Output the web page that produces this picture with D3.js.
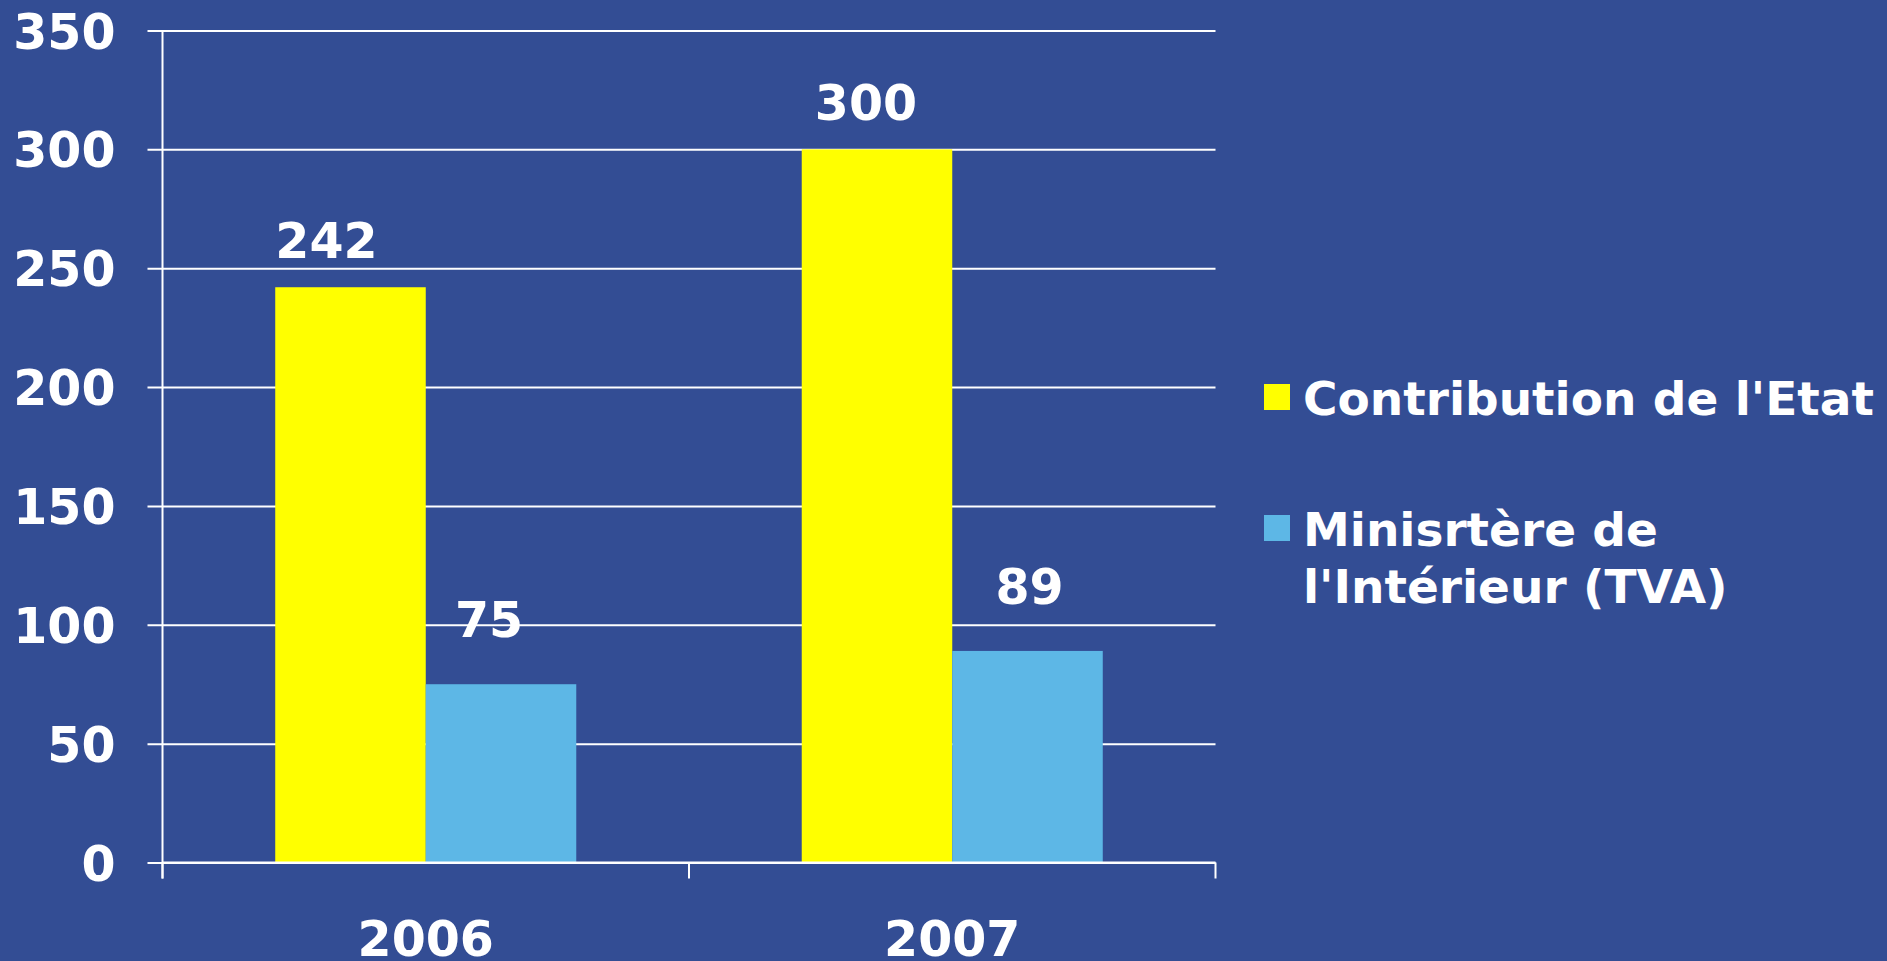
<!DOCTYPE html>
<html>
<head>
<meta charset="utf-8">
<script src="https://cdn.jsdelivr.net/npm/d3@7"></script>
<style>
  html, body { margin: 0; padding: 0; background: #334d94; }
  svg { display: block; }
  text { font-family: "DejaVu Sans", Verdana, sans-serif; font-weight: bold; fill: #ffffff; }
</style>
</head>
<body>
<svg id="chart" width="1887" height="961"></svg>
<script>
// data
var years = ["2006", "2007"];
var seriesNames = ["Contribution de l'Etat", "Minisrtère de l'Intérieur (TVA)"];
var contribution = [242, 300];
var tva = [75, 89];
var yTicks = [0, 50, 100, 150, 200, 250, 300, 350];

var colors = ["#ffff00", "#5db7e6"];
var legendLines = [["Contribution de l'Etat"], ["Minisrtère de", "l'Intérieur (TVA)"]];

var svg = d3.select("#chart");
var margin = {top: 30.5, left: 162.5};
var width = 1053;   // plot width
var height = 832;   // plot height

var g = svg.append("g")
  .attr("transform", "translate(" + margin.left + "," + margin.top + ")");

// scales
var x0 = d3.scaleBand().domain(years).range([0, width]).paddingInner(0).paddingOuter(0);
var x1 = d3.scaleBand().domain(seriesNames).range([0, x0.bandwidth()]).paddingInner(0).paddingOuter(0.749);
var y = d3.scaleLinear().domain([0, 350]).range([height, 0]);
var color = d3.scaleOrdinal().domain(seriesNames).range(colors);

// y axis + gridlines
var yAxis = d3.axisLeft(y).tickValues(yTicks).tickSizeInner(-width).tickSizeOuter(0).tickPadding(47);
var yg = g.append("g").attr("class", "left axis").call(yAxis);
yg.select(".domain").remove();
yg.selectAll(".tick line")
  .attr("x1", -15)
  .attr("stroke", "#ffffff")
  .attr("stroke-width", 2);
yg.selectAll(".tick text")
  .attr("font-size", "49px")
  .attr("dy", "0.36em");
yg.selectAll("text").style("font-family", "'DejaVu Sans', Verdana, sans-serif").style("font-weight", "bold").attr("fill", "#fff");

// rows of data
var rows = years.map(function(yr, i) {
  return {year: yr, i: i, values: [contribution[i], tva[i]]};
});

// bars
var groups = g.selectAll(".year")
  .data(rows)
  .enter().append("g")
  .attr("class", "year")
  .attr("transform", function(d) { return "translate(" + x0(d.year) + ",0)"; });

function cells(d) {
  return d.values.map(function(v, k) { return {name: seriesNames[k], value: v, k: k, i: d.i}; });
}

groups.selectAll("rect")
  .data(cells)
  .enter().append("rect")
  .attr("x", function(d) { return x1(d.name); })
  .attr("y", function(d) { return y(d.value); })
  .attr("width", x1.bandwidth())
  .attr("height", function(d) { return height - y(d.value); })
  .attr("fill", function(d) { return color(d.name); });

// value labels (small nudges like the original layout)
var labelGap = [29, 47];
var labelNudge = [[-24, -12], [-11, 2]];
groups.selectAll(".val")
  .data(cells)
  .enter().append("text")
  .attr("class", "val")
  .attr("x", function(d) { return x1(d.name) + x1.bandwidth() / 2 + labelNudge[d.i][d.k]; })
  .attr("y", function(d) { return y(d.value) - labelGap[d.k]; })
  .attr("text-anchor", "middle")
  .attr("font-size", "49px")
  .text(function(d) { return d.value; });

// x axis
g.append("line")
  .attr("x1", 0).attr("x2", width)
  .attr("y1", height).attr("y2", height)
  .attr("stroke", "#ffffff").attr("stroke-width", 2);
g.append("line")
  .attr("x1", 0).attr("x2", 0)
  .attr("y1", 0).attr("y2", height + 16)
  .attr("stroke", "#ffffff").attr("stroke-width", 2);
var bounds = years.map(function(d) { return x0(d); }).concat([width]);
g.selectAll(".xtick")
  .data(bounds)
  .enter().append("line")
  .attr("class", "xtick")
  .attr("x1", function(d) { return d; }).attr("x2", function(d) { return d; })
  .attr("y1", height).attr("y2", height + 16)
  .attr("stroke", "#ffffff").attr("stroke-width", 2);

var xAxis = d3.axisBottom(x0).tickSize(0).tickPadding(59);
var xg = g.append("g").attr("class", "bottom axis")
  .attr("transform", "translate(0," + height + ")")
  .call(xAxis);
xg.select(".domain").remove();
xg.selectAll("text")
  .attr("font-size", "49px")
  .attr("fill", "#fff")
  .style("font-family", "'DejaVu Sans', Verdana, sans-serif")
  .style("font-weight", "bold");

// legend
var legend = svg.append("g").attr("transform", "translate(1264,0)");
var legendTop = [384, 515];
legendLines.forEach(function(lines, i) {
  legend.append("rect")
    .attr("x", 0).attr("y", legendTop[i])
    .attr("width", 26).attr("height", 26)
    .attr("fill", colors[i]);
  var t = legend.append("text")
    .attr("x", 39)
    .attr("y", legendTop[i] + 31)
    .attr("font-size", "47px");
  lines.forEach(function(line, j) {
    t.append("tspan")
      .attr("x", 39)
      .attr("dy", j === 0 ? 0 : 57)
      .text(line);
  });
});
</script>
</body>
</html>
